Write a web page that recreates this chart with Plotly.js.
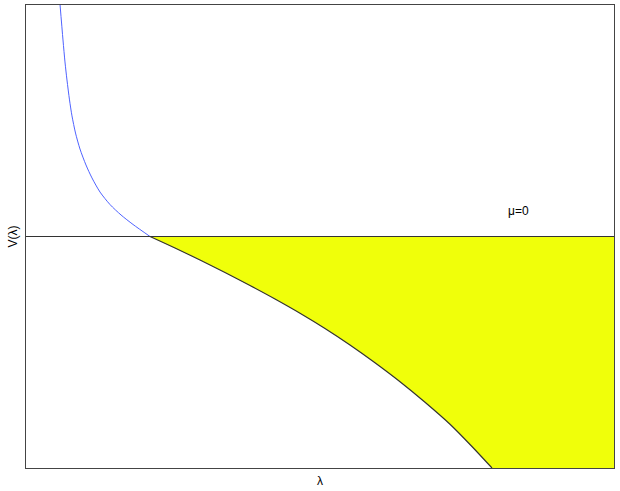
<!DOCTYPE html>
<html>
<head>
<meta charset="utf-8">
<script src="https://cdn.plot.ly/plotly-3.0.1.min.js"></script>
<style>
  html, body { margin: 0; padding: 0; background: #fff; }
  #chart { width: 620px; height: 491px; }
</style>
</head>
<body>
<div id="chart"></div>
<script>
// blue branch, above V = 0
const upperX = [0.0578, 0.0629, 0.0663, 0.0697, 0.0740, 0.0782, 0.0842, 0.0918,
                0.1020, 0.1122, 0.1259, 0.1429, 0.1616, 0.1820, 0.2109];
const upperY = [1.004, 0.849, 0.754, 0.676, 0.590, 0.521, 0.447, 0.378,
                0.309, 0.253, 0.192, 0.138, 0.093, 0.052, 0.0];

// black branch, below V = 0
const lowerX = [0.2109, 0.2534, 0.2959, 0.3384, 0.3810, 0.4235, 0.4660, 0.5085,
                0.5510, 0.5935, 0.6361, 0.6786, 0.7211, 0.7568, 0.7925];
const lowerY = [0.0, -0.0497, -0.1015, -0.1555, -0.2117, -0.2700, -0.3315, -0.3974,
                -0.4687, -0.5454, -0.6274, -0.7160, -0.8110, -0.9028, -1.0];

const xRange = [0, 1];
const yRange = [-1, 1];

// yellow region: between the curve and V = 0, out to the right edge
const fillX = lowerX.concat([xRange[1], xRange[1], lowerX[0]]);
const fillY = lowerY.concat([yRange[0], 0, 0]);

const traces = [
  {
    x: fillX, y: fillY, type: "scatter", mode: "lines",
    fill: "toself", fillcolor: "#F0FF0A",
    line: { width: 0, color: "rgba(0,0,0,0)" },
    hoverinfo: "skip"
  },
  {
    x: upperX, y: upperY, type: "scatter", mode: "lines",
    line: { color: "#4F63FF", width: 1, shape: "spline", smoothing: 0.8 }
  },
  {
    x: lowerX, y: lowerY, type: "scatter", mode: "lines",
    line: { color: "#333333", width: 1.2, shape: "spline", smoothing: 0.8 }
  }
];

const layout = {
  width: 620, height: 491,
  margin: { l: 26, r: 6, t: 5, b: 23 },
  paper_bgcolor: "#fff", plot_bgcolor: "#fff",
  showlegend: false,
  font: { family: "Liberation Sans, Arial, sans-serif", size: 12, color: "#000" },
  xaxis: {
    range: xRange, showgrid: false, zeroline: false, showticklabels: false, ticks: "",
    showline: true, mirror: true, linecolor: "#444", linewidth: 1,
    title: { text: "λ", standoff: 8, font: { size: 12 } }
  },
  yaxis: {
    range: yRange, showgrid: false, zeroline: false, showticklabels: false, ticks: "",
    showline: true, mirror: true, linecolor: "#444", linewidth: 1,
    title: { text: "V(λ)", standoff: 4, font: { size: 12 } }
  },
  shapes: [
    { type: "line", xref: "paper", x0: 0, x1: 1, yref: "y", y0: 0, y1: 0,
      line: { color: "#333", width: 1.2 } }
  ],
  annotations: [
    { x: 0.837, y: 0.11, xref: "x", yref: "y", text: "μ=0", showarrow: false,
      font: { size: 12 } }
  ]
};

Plotly.newPlot("chart", traces, layout, { displayModeBar: false, staticPlot: true });
</script>
</body>
</html>
